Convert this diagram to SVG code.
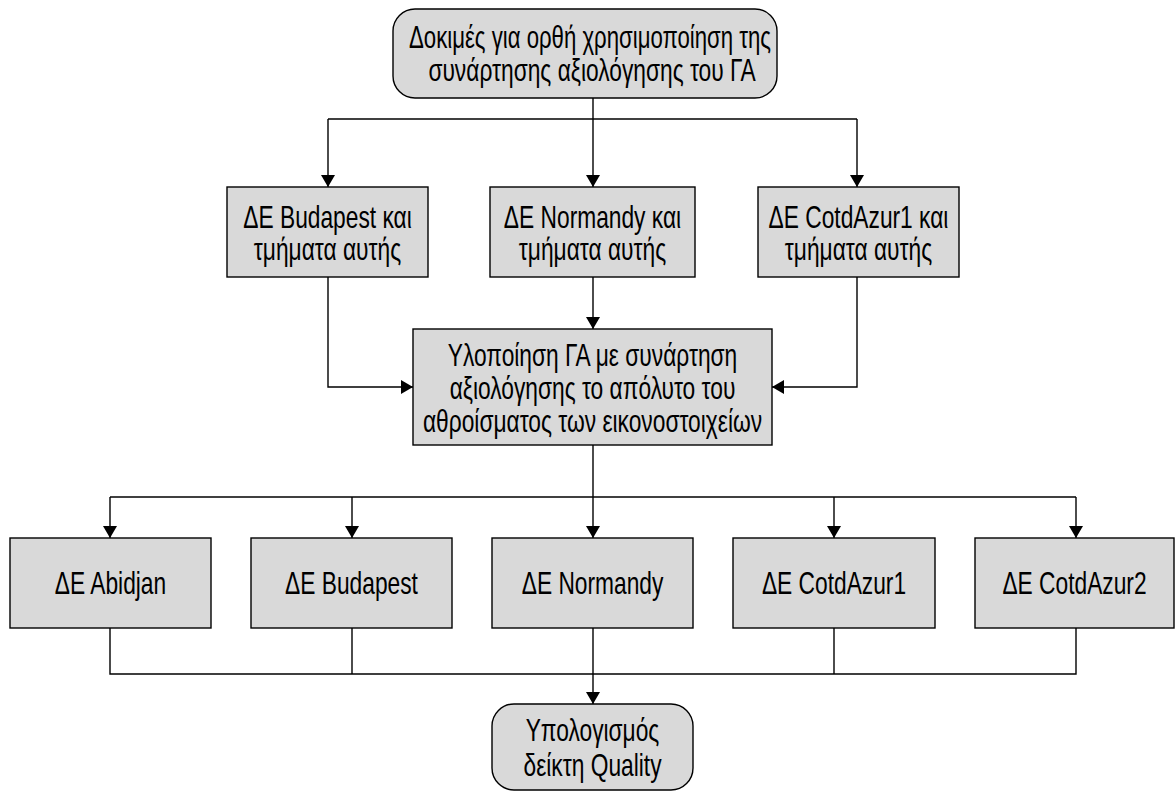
<svg xmlns="http://www.w3.org/2000/svg" width="1175" height="791" viewBox="0 0 1175 791">
<style>
.box{fill:#d9d9d9;stroke:#000;stroke-width:1.4}
.t{font-family:"Liberation Sans",Arial,sans-serif;font-size:31px;fill:#000;text-anchor:middle}
.c{fill:none;stroke:#000;stroke-width:1.4}
</style>
<defs>
<marker id="ah" viewBox="0 0 12 14" refX="12" refY="7" markerWidth="12" markerHeight="14" markerUnits="userSpaceOnUse" orient="auto">
<path d="M0,0 L12,7 L0,14 Z" fill="#000"/>
</marker>
</defs>
<g id="connectors">
<path class="c" d="M593,98 V119"/>
<path class="c" d="M328,119 H857"/>
<path class="c" d="M328,119 V187" marker-end="url(#ah)"/>
<path class="c" d="M593,119 V187" marker-end="url(#ah)"/>
<path class="c" d="M857,119 V187" marker-end="url(#ah)"/>
<path class="c" d="M328,277 V387 H413" marker-end="url(#ah)"/>
<path class="c" d="M857,277 V387 H772" marker-end="url(#ah)"/>
<path class="c" d="M593,277 V329" marker-end="url(#ah)"/>
<path class="c" d="M593,445 V497"/>
<path class="c" d="M110,497 H1076"/>
<path class="c" d="M110,497 V538" marker-end="url(#ah)"/>
<path class="c" d="M352,497 V538" marker-end="url(#ah)"/>
<path class="c" d="M593,497 V538" marker-end="url(#ah)"/>
<path class="c" d="M834,497 V538" marker-end="url(#ah)"/>
<path class="c" d="M1076,497 V538" marker-end="url(#ah)"/>
<path class="c" d="M110,628 V674 H1076 V628"/>
<path class="c" d="M352,628 V674"/>
<path class="c" d="M834,628 V674"/>
<path class="c" d="M593,628 V704" marker-end="url(#ah)"/>
</g>
<g id="n_top">
<rect class="box" x="393" y="9" width="384" height="89" rx="22"/>
<text class="t" transform="translate(590 48) scale(0.716 1)">Δοκιμές για ορθή χρησιμοποίηση της</text>
<text class="t" transform="translate(592 81) scale(0.734 1)">συνάρτησης αξιολόγησης του ΓΑ</text>
</g>
<g id="n_budapest_parts">
<rect class="box" x="227" y="187" width="201" height="90"/>
<text class="t" transform="translate(327.5 228) scale(0.734 1)">ΔE Budapest και</text>
<text class="t" transform="translate(327.5 260) scale(0.734 1)">τμήματα αυτής</text>
</g>
<g id="n_normandy_parts">
<rect class="box" x="490" y="187" width="205" height="90"/>
<text class="t" transform="translate(592.5 228) scale(0.734 1)">ΔE Normandy και</text>
<text class="t" transform="translate(592.5 260) scale(0.734 1)">τμήματα αυτής</text>
</g>
<g id="n_cotdazur1_parts">
<rect class="box" x="758" y="187" width="201" height="90"/>
<text class="t" transform="translate(858.5 228) scale(0.734 1)">ΔE CotdAzur1 και</text>
<text class="t" transform="translate(858.5 260) scale(0.734 1)">τμήματα αυτής</text>
</g>
<g id="n_ga">
<rect class="box" x="413" y="329" width="359" height="116"/>
<text class="t" transform="translate(592.5 366) scale(0.734 1)">Υλοποίηση ΓΑ με συνάρτηση</text>
<text class="t" transform="translate(592.5 399) scale(0.734 1)">αξιολόγησης το απόλυτο του</text>
<text class="t" transform="translate(592.5 432) scale(0.734 1)">αθροίσματος των εικονοστοιχείων</text>
</g>
<g id="n_abidjan">
<rect class="box" x="10" y="538" width="201" height="90"/>
<text class="t" transform="translate(110.5 594) scale(0.734 1)">ΔE Abidjan</text>
</g>
<g id="n_budapest">
<rect class="box" x="251" y="538" width="201" height="90"/>
<text class="t" transform="translate(351.5 594) scale(0.734 1)">ΔE Budapest</text>
</g>
<g id="n_normandy">
<rect class="box" x="492" y="538" width="201" height="90"/>
<text class="t" transform="translate(592.5 594) scale(0.734 1)">ΔE Normandy</text>
</g>
<g id="n_cotdazur1">
<rect class="box" x="733" y="538" width="202" height="90"/>
<text class="t" transform="translate(834 594) scale(0.734 1)">ΔE CotdAzur1</text>
</g>
<g id="n_cotdazur2">
<rect class="box" x="975" y="538" width="199" height="90"/>
<text class="t" transform="translate(1074.5 594) scale(0.734 1)">ΔE CotdAzur2</text>
</g>
<g id="n_quality">
<rect class="box" x="492" y="704" width="201" height="86" rx="22"/>
<text class="t" transform="translate(592.5 741) scale(0.734 1)">Υπολογισμός</text>
<text class="t" transform="translate(592.5 776) scale(0.734 1)">δείκτη Quality</text>
</g>
</svg>
